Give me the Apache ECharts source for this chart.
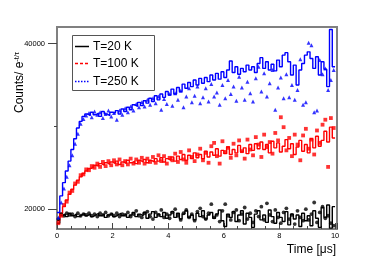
<!DOCTYPE html>
<html><head><meta charset="utf-8">
<script src="https://cdn.jsdelivr.net/npm/echarts@6/dist/echarts.min.js"></script>
<style>html,body{margin:0;padding:0;background:#fff}#c{width:374px;height:270px}</style>
</head><body><div id="c"></div>
<script>
// bin edges in microseconds
const timeEdges = [0,0.1,0.2,0.3,0.4,0.5,0.6,0.7,0.8,0.9,1,1.1,1.2,1.3,1.4,1.5,1.6,1.7,1.8,1.9,2,2.1,2.2,2.3,2.4,2.5,2.6,2.7,2.8,2.9,3,3.1,3.2,3.3,3.4,3.5,3.6,3.7,3.8,3.9,4,4.1,4.2,4.3,4.4,4.5,4.6,4.7,4.8,4.9,5,5.1,5.2,5.3,5.4,5.5,5.6,5.7,5.8,5.9,6,6.1,6.2,6.3,6.4,6.5,6.6,6.7,6.8,6.9,7,7.1,7.2,7.3,7.4,7.5,7.6,7.7,7.8,7.9,8,8.1,8.2,8.3,8.4,8.5,8.6,8.7,8.8,8.9,9,9.1,9.2,9.3,9.4,9.5,9.6,9.7,9.8,9.9,10];

const seriesNames = ['T=20 K','T=100 K','T=250 K'];
const xTickLabels = [0,2,4,6,8,10];
const yTickLabels = [20000,40000];

// T=20 K histogram (step line) and points
const hist20 = [18300,19200,19400,19100,19500,19200,19400,19100,19300,19500,
19200,19400,19100,19300,19500,19200,19400,19000,19300,19500,
19100,19300,19500,19200,19400,19000,19300,19600,19100,19400,
19200,19600,18900,19400,19700,19000,19400,19100,19600,18900,
19300,19700,19000,19500,18800,19400,19800,19000,19300,18700,
19500,19100,19800,18800,19300,19600,18900,19400,19900,18600,
17900,19400,19000,19700,18500,19300,19800,18200,19500,19000,
17800,19400,19800,18700,19300,18400,19900,19100,18300,19600,
19000,18500,19700,18100,19400,18800,19300,17900,19500,18600,
19200,18000,19800,18900,17800,20200,19000,20500,17700,20300];
const pts20 = [18800,19400,19200,19500,19300,19400,19100,19500,19200,19400,
19300,19500,19200,19400,19100,19500,19300,19600,19200,19400,
19200,19500,19100,19400,19300,19600,19100,19400,19800,19200,
19000,19500,19700,19100,18800,19600,19300,19900,19000,19400,
18900,19600,20000,19200,18700,19500,19900,19000,19400,18600,
19700,20100,19100,18800,19500,20600,19000,19300,18500,19800,
20600,19200,18700,19600,19900,18600,19400,20200,18800,19500,
18400,19800,19100,20300,18700,20700,19300,18500,19900,19000,
18300,19600,20100,18800,19300,18200,19800,19000,18600,20000,
18700,19400,20800,18400,19600,20300,18900,19200,18300,18000];

// T=100 K
const hist100 = [18600,19500,20300,21100,21800,22400,22900,23500,23900,24300,
24600,24900,25000,25300,25200,25500,25300,25600,25400,25700,
25500,25800,25400,25700,25500,25900,25600,25800,25500,25900,
25700,26000,25600,25900,25700,26100,25800,26200,25700,26100,
25900,26300,25800,26400,26000,26600,25900,26500,26100,26800,
26200,26600,26100,27000,26300,26900,26500,27300,26400,27100,
26700,27500,26600,27200,26800,27700,26900,27400,26700,27800,
27100,27900,27300,28100,27200,27800,26800,28200,27400,28000,
26900,27600,28400,27300,27900,26600,27500,28300,27000,27800,
26800,28500,27400,28800,27600,28300,29400,28100,29900,28600];
const pts100 = [18300,19200,20500,20900,22000,22200,23100,23300,24100,24200,
24800,24700,25200,25000,25500,25100,25700,25200,25800,25300,
25900,25400,26000,25300,25800,25400,26100,25500,26000,25600,
26200,25500,26100,25700,26300,25600,26500,25800,26400,25500,
26200,25900,26700,25700,26900,26000,25600,27100,26300,25800,
26600,27300,25900,26800,25600,27600,28000,26400,25500,28200,
26900,27400,26200,27900,26500,28300,27000,26100,28400,27200,
26500,28700,27800,26300,29000,27500,28100,26700,29200,28300,
31100,29900,27100,28600,26400,29000,27800,25900,28900,29700,
27300,28400,26600,29500,28000,30200,30800,25100,31000,29800];

// T=250 K
const hist250 = [19600,21600,23200,24600,25800,27200,28500,29800,30600,31200,
31500,31300,31700,31400,31600,31200,31800,31500,31300,31700,
31600,31900,31500,32100,31800,32300,32000,32600,32400,32900,
32500,33100,32800,33400,33000,33700,33200,33900,33500,34200,
33800,34500,33900,34700,34200,35100,34600,35300,34800,35600,
35000,35800,35200,35900,35400,36200,35600,36400,35700,36600,
35900,36800,37900,36500,37200,36300,37000,36600,37400,36800,
37200,36500,37600,38300,37000,37800,36800,37500,36700,38000,
37200,38600,38900,37800,36200,37400,35000,36800,37600,38600,
39000,38200,37000,38400,36200,37800,36900,34800,41700,37200];
const pts250 = [19000,20800,22500,23900,25300,26500,27900,29100,30300,30900,
31300,31600,31100,31800,31400,31700,31000,31500,31900,31200,
31600,30800,31900,31400,32200,31700,32400,31900,32700,32300,
32900,32400,33200,32600,33400,32800,33600,32000,33300,32700,
33900,32500,34000,33200,34300,32300,33600,34600,32900,33700,
34800,32800,33500,34600,33000,35100,33600,34100,32600,35000,
33400,35600,33900,34800,33100,36000,34700,33200,35400,34000,
33000,35800,37200,34200,36400,33600,35200,36800,32000,34700,
35900,33400,36300,33500,35000,33200,34400,38100,32600,32900,
40100,39800,31700,31900,38000,36300,37000,34400,35600,36800];

const colors = ['#000000','#ff0000','#0000ff'];
const symbols = ['circle','rect','triangle'];
const legendDash = [null,[3,2],[1.5,1.5]];
const hists = [hist20, hist100, hist250];
const pts = [pts20, pts100, pts250];

function stepData(vals){
  const d = vals.map((v,i)=>[timeEdges[i], v]);
  d.push([timeEdges[vals.length], vals[vals.length-1]]);
  return d;
}
function ptData(vals){
  return vals.map((v,i)=>[(timeEdges[i]+timeEdges[i+1])/2, v]);
}

const FONT = "'Liberation Sans', Arial, Helvetica, sans-serif";
const series = [];
for (let k=0;k<3;k++){
  series.push({name:seriesNames[k], type:'line', step:'end', symbol:'none',
    data:stepData(hists[k]), lineStyle:{color:colors[k], width:1.4}, itemStyle:{color:colors[k]},
    z:2+k, animation:false, clip:true});
}
for (let k=0;k<3;k++){
  series.push({name:seriesNames[k], type:'scatter', symbol:symbols[k], symbolSize:k===2?4:3.8,
    data:ptData(pts[k]), itemStyle:{color:colors[k]}, z:6+k, animation:false});
}

// legend drawn as graphic elements
const legendGraphic = [{type:'rect', z:100, shape:{x:72.5, y:35.5, width:82, height:55}, style:{fill:'#fff', stroke:'#555', lineWidth:1}}];
const legendY = [46.5, 63.5, 81.5];
for (let k=0;k<3;k++){
  legendGraphic.push({type:'line', z:101, shape:{x1:75, y1:legendY[k], x2:89, y2:legendY[k]},
    style:{stroke:colors[k], fill:null, lineWidth:1.5, lineDash:legendDash[k]}});
  legendGraphic.push({type:'text', z:101, x:93, y:legendY[k], style:{text:seriesNames[k], fontSize:12, fontFamily:FONT, fill:'#000', align:'left', verticalAlign:'middle'}});
}

const chart = echarts.init(document.getElementById('c'), null, {renderer:'canvas'});
chart.setOption({
  animation:false,
  backgroundColor:'#fff',
  textStyle:{fontFamily:FONT},
  grid:{left:57, right:37, top:27, bottom:41, show:true, borderColor:'#808080', borderWidth:2, backgroundColor:'transparent'},
  xAxis:{type:'value', min:0, max:10.07, interval:2,
    axisLine:{show:false}, splitLine:{show:false},
    axisTick:{show:true, inside:true, length:6, lineStyle:{color:'#444', width:1}},
    minorTick:{show:true, splitNumber:4, length:3, lineStyle:{color:'#444', width:1}},
    axisLabel:{fontSize:7.5, color:'#000', margin:3, showMaxLabel:false, fontFamily:FONT,
      formatter:v=> xTickLabels.indexOf(Math.round(v*1000)/1000)>=0 ? String(v) : ''}
  },
  yAxis:[{type:'value', min:17600, max:42000,
    axisLine:{show:false}, splitLine:{show:false},
    axisTick:{show:true, inside:false, length:9, customValues:yTickLabels, lineStyle:{color:'#444', width:1}},
    axisLabel:{fontSize:7.5, color:'#000', margin:12, customValues:yTickLabels, fontFamily:FONT, formatter:v=>String(v)}
  },{type:'value', min:17600, max:42000, position:'left',
    axisLine:{show:false}, splitLine:{show:false},
    axisTick:{show:true, inside:false, length:3, customValues:[30000], lineStyle:{color:'#444', width:1}},
    axisLabel:{show:false, customValues:[30000]}
  }],
  graphic:[
    {type:'text', x:336, y:250, style:{text:'Time [μs]', fontSize:12, fontFamily:FONT, fill:'#000', align:'right', verticalAlign:'middle'}},
    {type:'text', x:20, y:113, rotation:Math.PI/2, style:{text:'Counts/ e{sup|-t/τ}', fontSize:12, fontFamily:FONT, fill:'#000', align:'left', verticalAlign:'middle',
      rich:{sup:{fontSize:7.5, fontFamily:FONT, fill:'#000', verticalAlign:'top', padding:[0,0,7,0]}}}}
  ].concat(legendGraphic),
  series:series
});
</script>
</body></html>
